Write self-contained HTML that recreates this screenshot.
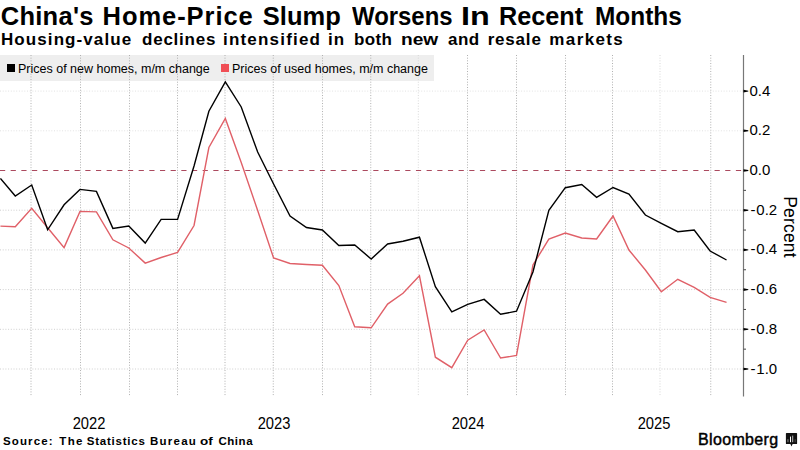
<!DOCTYPE html>
<html><head><meta charset="utf-8"><style>
html,body{margin:0;padding:0;background:#fff;}
body{width:800px;height:450px;position:relative;overflow:hidden;font-family:"Liberation Sans",sans-serif;color:#000;}
.t{position:absolute;top:2px;font-size:25.5px;font-weight:bold;white-space:nowrap;line-height:29px;transform-origin:0 0;}
.st{position:absolute;top:30px;font-size:17px;font-weight:bold;white-space:nowrap;line-height:20px;transform-origin:0 0;}
svg{position:absolute;left:0;top:0;}
.g{stroke:#b0b0b0;stroke-width:1;stroke-dasharray:1 1.67;}
.g2{stroke:#d8d8d8;stroke-width:1;stroke-dasharray:1 1.67;}
.gh2{stroke:#e2e2e2;stroke-width:1;stroke-dasharray:1 1.7;}
.gh{stroke:#cfcfcf;stroke-width:1;stroke-dasharray:1 1.7;}
.z{stroke:#ab4a5f;stroke-width:1.15;stroke-dasharray:5.2 5.465;}
.ax{stroke:#777;stroke-width:1.2;}
.tk{stroke:#000;stroke-width:1.3;}
.mt{stroke:#444;stroke-width:1;}
.b{fill:none;stroke:#000;stroke-width:1.4;stroke-linejoin:miter;}
.r{fill:none;stroke:#e06068;stroke-width:1.4;stroke-linejoin:miter;}
.leg{position:absolute;left:0;top:55px;width:434px;height:25px;background:rgba(235,235,235,0.75);}
.li{position:absolute;top:5px;font-size:12.5px;line-height:16px;white-space:nowrap;}
.sq{position:absolute;top:64px;width:8px;height:8px;}
.mn{display:inline-block;width:5.8px;padding-left:1px;}
.yl{position:absolute;left:749.5px;font-size:15px;line-height:18px;white-space:nowrap;letter-spacing:0px;}
.xl{position:absolute;top:414.5px;width:60px;text-align:center;font-size:16px;line-height:18px;transform:scaleX(0.92);}
.pc{position:absolute;left:789.6px;top:227px;width:0;height:0;}
.pc span{position:absolute;left:0;top:0;transform:translate(-50%,-50%) rotate(90deg);font-size:17.5px;line-height:20px;white-space:nowrap;display:block;letter-spacing:0.2px;}
.src{position:absolute;top:432.6px;font-size:11.5px;font-weight:bold;line-height:16px;white-space:nowrap;transform-origin:0 0;}
.bb{position:absolute;left:698px;top:431px;font-size:16px;font-weight:normal;line-height:18px;white-space:nowrap;letter-spacing:0.35px;-webkit-text-stroke:0.45px #000;}
</style></head><body>
<div class="t" style="left:0.8px;transform:scaleX(1.0);letter-spacing:0.25px">China's</div>
<div class="t" style="left:102.6px;transform:scaleX(1.0);letter-spacing:0.933px">Home-Price</div>
<div class="t" style="left:262.8px;transform:scaleX(1.0);letter-spacing:0.0px">Slump</div>
<div class="t" style="left:352.0px;transform:scaleX(0.9377);letter-spacing:0.0px">Worsens</div>
<div class="t" style="left:460.76px;transform:scaleX(1.2684);letter-spacing:0.0px">In</div>
<div class="t" style="left:499.02px;transform:scaleX(0.9892);letter-spacing:0.0px">Recent</div>
<div class="t" style="left:595.48px;transform:scaleX(0.958);letter-spacing:0.0px">Months</div>
<div class="st" style="left:1.0px;transform:scaleX(1.0);letter-spacing:1.083px">Housing-value</div>
<div class="st" style="left:142.0px;transform:scaleX(1.0);letter-spacing:0.771px">declines</div>
<div class="st" style="left:223.0px;transform:scaleX(1.0);letter-spacing:1.2px">intensified</div>
<div class="st" style="left:328.0px;transform:scaleX(1.0);letter-spacing:1.0px">in</div>
<div class="st" style="left:354.0px;transform:scaleX(1.0);letter-spacing:0.333px">both</div>
<div class="st" style="left:400.88px;transform:scaleX(1.125);letter-spacing:0.0px">new</div>
<div class="st" style="left:448.0px;transform:scaleX(1.0);letter-spacing:0.5px">and</div>
<div class="st" style="left:487.7px;transform:scaleX(1.0);letter-spacing:0.8px">resale</div>
<div class="st" style="left:549.3px;transform:scaleX(1.0);letter-spacing:1.383px">markets</div>
<svg width="800" height="450" viewBox="0 0 800 450">
<rect x="0" y="55" width="434" height="26" fill="#eeeeee"/>
<line x1="31.00" y1="55" x2="31.00" y2="396.5" class="g"/>
<line x1="80.50" y1="55" x2="80.50" y2="396.5" class="g"/>
<line x1="129.50" y1="55" x2="129.50" y2="396.5" class="g"/>
<line x1="177.50" y1="55" x2="177.50" y2="396.5" class="g"/>
<line x1="225.00" y1="55" x2="225.00" y2="396.5" class="g"/>
<line x1="273.25" y1="55" x2="273.25" y2="396.5" class="g"/>
<line x1="322.50" y1="55" x2="322.50" y2="396.5" class="g"/>
<line x1="370.75" y1="55" x2="370.75" y2="396.5" class="g"/>
<line x1="418.30" y1="55" x2="418.30" y2="396.5" class="g2"/>
<line x1="467.50" y1="55" x2="467.50" y2="396.5" class="g"/>
<line x1="516.50" y1="55" x2="516.50" y2="396.5" class="g"/>
<line x1="565.50" y1="55" x2="565.50" y2="396.5" class="g"/>
<line x1="612.50" y1="55" x2="612.50" y2="396.5" class="g"/>
<line x1="660.00" y1="55" x2="660.00" y2="396.5" class="g2"/>
<line x1="710.75" y1="55" x2="710.75" y2="396.5" class="g"/>
<line x1="0" y1="91.10" x2="743.5" y2="91.10" class="gh2"/>
<line x1="0" y1="130.80" x2="743.5" y2="130.80" class="gh2"/>
<line x1="0" y1="210.20" x2="743.5" y2="210.20" class="gh"/>
<line x1="0" y1="249.90" x2="743.5" y2="249.90" class="gh"/>
<line x1="0" y1="289.60" x2="743.5" y2="289.60" class="gh"/>
<line x1="0" y1="329.30" x2="743.5" y2="329.30" class="gh"/>
<line x1="0" y1="369.00" x2="743.5" y2="369.00" class="gh"/>
<line x1="0" y1="170.50" x2="743.5" y2="170.50" class="z"/>
<line x1="743.5" y1="55" x2="743.5" y2="396.5" class="ax"/>
<path d="M743.5,367.70 L748.3,368.55 L748.3,369.45 L743.5,370.30 Z" fill="#000"/>
<line x1="743.5" y1="349.15" x2="746.0" y2="349.15" class="mt"/>
<path d="M743.5,328.00 L748.3,328.85 L748.3,329.75 L743.5,330.60 Z" fill="#000"/>
<line x1="743.5" y1="309.45" x2="746.0" y2="309.45" class="mt"/>
<path d="M743.5,288.30 L748.3,289.15 L748.3,290.05 L743.5,290.90 Z" fill="#000"/>
<line x1="743.5" y1="269.75" x2="746.0" y2="269.75" class="mt"/>
<path d="M743.5,248.60 L748.3,249.45 L748.3,250.35 L743.5,251.20 Z" fill="#000"/>
<line x1="743.5" y1="230.05" x2="746.0" y2="230.05" class="mt"/>
<path d="M743.5,208.90 L748.3,209.75 L748.3,210.65 L743.5,211.50 Z" fill="#000"/>
<line x1="743.5" y1="190.35" x2="746.0" y2="190.35" class="mt"/>
<path d="M743.5,169.20 L748.3,170.05 L748.3,170.95 L743.5,171.80 Z" fill="#000"/>
<path d="M743.5,129.50 L748.3,130.35 L748.3,131.25 L743.5,132.10 Z" fill="#000"/>
<path d="M743.5,89.80 L748.3,90.65 L748.3,91.55 L743.5,92.40 Z" fill="#000"/>
<polyline points="0.43,226.10 15.28,226.80 31.72,208.30 47.64,227.80 64.08,247.60 79.99,211.40 96.43,211.90 112.88,239.80 128.79,248.00 145.23,263.10 161.14,257.50 177.58,252.40 194.03,225.50 208.88,147.50 225.32,118.40 241.23,162.40 257.67,210.60 273.59,258.00 290.03,263.50 306.47,264.50 322.38,265.20 338.83,285.50 354.74,326.80 371.18,327.80 387.62,304.10 403.00,293.30 419.45,275.80 435.36,357.20 451.80,367.70 467.71,340.20 484.16,330.00 500.60,358.00 516.51,355.50 532.95,265.00 548.86,239.10 565.31,233.00 581.75,238.00 596.60,239.00 613.04,216.00 628.95,250.00 645.40,270.00 661.31,291.70 677.75,279.30 694.19,287.30 710.11,297.30 726.55,302.30" class="r"/>
<polyline points="0.43,178.40 15.28,196.00 31.72,185.00 47.64,229.80 64.08,204.80 79.99,189.40 96.43,191.40 112.88,228.40 128.79,226.00 145.23,243.10 161.14,219.40 177.58,219.40 194.03,166.00 208.88,111.20 225.32,81.80 241.23,107.00 257.67,152.00 273.59,184.00 290.03,216.00 306.47,227.50 322.38,230.00 338.83,245.50 354.74,245.00 371.18,259.00 387.62,244.00 403.00,241.30 419.45,237.20 435.36,286.60 451.80,311.90 467.71,304.30 484.16,299.40 500.60,314.30 516.51,311.20 532.95,272.00 548.86,210.30 565.31,187.70 581.75,184.50 596.60,197.40 613.04,187.50 628.95,194.00 645.40,215.00 661.31,223.30 677.75,231.70 694.19,230.00 710.11,251.00 726.55,260.00" class="b"/>
</svg>
<div class="sq" style="left:7px;background:#000"></div>
<div class="li" style="left:18px;top:61px">Prices of new homes, m/m change</div>
<div class="sq" style="left:221px;background:#f04e55"></div>
<div class="li" style="left:232px;top:61px">Prices of used homes, m/m change</div>
<div class="yl" style="top:359.5px"><span class="mn">-</span>1.0</div>
<div class="yl" style="top:319.8px"><span class="mn">-</span>0.8</div>
<div class="yl" style="top:280.1px"><span class="mn">-</span>0.6</div>
<div class="yl" style="top:240.4px"><span class="mn">-</span>0.4</div>
<div class="yl" style="top:200.7px"><span class="mn">-</span>0.2</div>
<div class="yl" style="top:161.0px">0.0</div>
<div class="yl" style="top:121.3px">0.2</div>
<div class="yl" style="top:81.6px">0.4</div>
<div class="xl" style="left:58.7px">2022</div>
<div class="xl" style="left:244.2px">2023</div>
<div class="xl" style="left:438.1px">2024</div>
<div class="xl" style="left:624.3px">2025</div>
<div class="pc"><span>Percent</span></div>
<div class="src" style="left:3.0px;transform:scaleX(1.0);letter-spacing:1.117px">Source:</div>
<div class="src" style="left:59.3px;transform:scaleX(1.0);letter-spacing:1.35px">The</div>
<div class="src" style="left:86.7px;transform:scaleX(1.0);letter-spacing:0.789px">Statistics</div>
<div class="src" style="left:150.0px;transform:scaleX(1.0);letter-spacing:1.24px">Bureau</div>
<div class="src" style="left:199.83px;transform:scaleX(1.17);letter-spacing:0.0px">of</div>
<div class="src" style="left:218.4px;transform:scaleX(1.0);letter-spacing:0.55px">China</div>
<div class="bb">Bloomberg</div>
<svg width="14" height="16" viewBox="0 0 14 16" style="position:absolute;left:785px;top:432px">
<path d="M1.6 0.9 H11.4 Q12.1 0.9 12.1 1.6 V11.4 Q12.1 12.1 11.4 12.1 H7.6 L6.5 14.4 L5.4 12.1 H1.6 Q0.9 12.1 0.9 11.4 V1.6 Q0.9 0.9 1.6 0.9 Z" fill="#111"/>
<rect x="2.5" y="7.2" width="0.9" height="3" fill="#999"/>
<rect x="5.0" y="4.6" width="1.0" height="5.6" fill="#fff"/>
<rect x="7.2" y="3.6" width="1.0" height="6.6" fill="#bbb"/>
<rect x="9.7" y="7.2" width="0.8" height="3" fill="#555"/>
</svg>
</body></html>
